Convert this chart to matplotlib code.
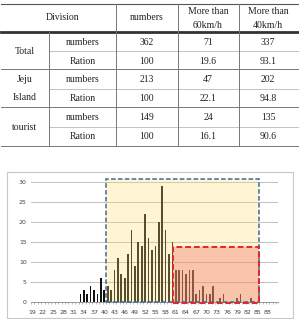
import numpy as np
import matplotlib
matplotlib.use("Agg")
import matplotlib.pyplot as plt
from matplotlib.patches import Rectangle

# ---- table data ----
groups = ["Total", "Jeju\nIsland", "tourist"]
row_kinds = ["numbers", "Ration"]
col_heads = ["numbers", "More than\n60km/h", "More than\n40km/h"]
table_vals = [
    ["362", "71", "337"],
    ["100", "19.6", "93.1"],
    ["213", "47", "202"],
    ["100", "22.1", "94.8"],
    ["149", "24", "135"],
    ["100", "16.1", "90.6"],
]

# ---- bar chart data (speed km/h -> count) ----
speeds = np.arange(19, 91)
counts = np.zeros(len(speeds), dtype=int)
observed = {
    33: 2, 34: 3, 35: 2, 36: 4, 37: 3, 38: 2, 39: 6, 40: 3,
    41: 4, 42: 3, 43: 8, 44: 11, 45: 7, 46: 6, 47: 12, 48: 18, 49: 9, 50: 15,
    51: 14, 52: 22, 53: 16, 54: 13, 55: 14, 56: 20, 57: 29, 58: 18, 59: 12, 60: 15,
    61: 8, 62: 8, 63: 8, 64: 7, 65: 8, 66: 8, 67: 2, 68: 3, 69: 4, 70: 2,
    71: 2, 72: 4, 74: 1, 75: 2, 79: 1, 80: 2, 83: 1,
}
for s, c in observed.items():
    counts[s - 19] = c
xtick_vals = np.arange(19, 89, 3)
ytick_vals = np.arange(0, 31, 5)

W, H = 299, 319
fig = plt.figure(figsize=(W / 100, H / 100), dpi=100)
plt.rcParams['font.family'] = ['Liberation Serif', 'DejaVu Serif']

# overlay axes in pixel coordinates for the table and frame
ov = fig.add_axes([0, 0, 1, 1])
ov.set_xlim(0, W)
ov.set_ylim(H, 0)
ov.axis("off")

tc = "#222222"
fs = 7
# horizontal rules
ov.plot([1, 298], [4, 4], color="#555555", lw=0.8)
ov.plot([1, 298], [31.7, 31.7], color="#333333", lw=2.0)
for y in [69.3, 107.3, 145.7]:
    ov.plot([1, 298], [y, y], color="#777777", lw=0.7)
for y in [50.8, 88.6, 126.8]:
    ov.plot([49.3, 298], [y, y], color="#aaaaaa", lw=0.5)
# vertical rules
for x in [116, 177.7, 239.3]:
    ov.plot([x, x], [4, 145.7], color="#777777", lw=0.7)
ov.plot([49.3, 49.3], [31.7, 145.7], color="#777777", lw=0.7)

# header
ov.text(63, 18, "Division", ha="center", va="center", fontsize=fs, color=tc)
col_x = [147, 208, 268]
for x, h in zip(col_x, col_heads):
    lines = h.split("\n")
    if len(lines) == 1:
        ov.text(x, 18, lines[0], ha="center", va="center", fontsize=fs, color=tc)
    else:
        ov.text(x, 11.5, lines[0], ha="center", va="center", fontsize=fs, color=tc)
        ov.text(x, 25, lines[1], ha="center", va="center", fontsize=fs, color=tc)

row_y = [42.3, 61, 80, 98.7, 117.7, 136.3]
group_y = [51.7, 88.5, 127.3]
for g, gy in zip(groups, group_y):
    lines = g.split("\n")
    if len(lines) == 1:
        ov.text(25, gy, g, ha="center", va="center", fontsize=fs, color=tc)
    else:
        ov.text(25, gy - 8.5, lines[0], ha="center", va="center", fontsize=fs, color=tc)
        ov.text(25, gy + 8.5, lines[1], ha="center", va="center", fontsize=fs, color=tc)
for i, ry in enumerate(row_y):
    ov.text(83, ry, row_kinds[i % 2], ha="center", va="center", fontsize=fs, color=tc)
    for x, v in zip(col_x, table_vals[i]):
        ov.text(x, ry, v, ha="center", va="center", fontsize=fs, color=tc)

# chart frame
ov.add_patch(Rectangle((7, 172), 286, 146, fill=False, ec="#c8c8c8", lw=0.8))

# ---- bar chart ----
left_px, right_px = 31, 278
bot_px, top_px = 301.7, 181.7
ax = fig.add_axes([left_px / W, 1 - bot_px / H, (right_px - left_px) / W,
                   (bot_px - top_px) / H])
ax.bar(speeds, counts, width=0.5, color="#111111", zorder=2)
ax.set_xlim(18.5, 91.0)
ax.set_ylim(0, 30)
ax.set_yticks(ytick_vals)
ax.set_xticks(xtick_vals)
ax.set_xticks(np.arange(18.5, 91, 1), minor=True)
ax.grid(axis="y", color="#c0c0c0", lw=0.7, zorder=0)
ax.tick_params(axis="both", which="major", labelsize=4.5, length=0,
               colors="#444444", pad=3)
ax.tick_params(axis="x", which="minor", length=1.5, width=0.4, color="#888888")
ax.tick_params(axis="x", which="major", pad=6)
for lab in ax.get_xticklabels() + ax.get_yticklabels():
    lab.set_family("DejaVu Sans")
for sp in ["top", "right", "left"]:
    ax.spines[sp].set_visible(False)
ax.spines["bottom"].set_color("#999999")
ax.spines["bottom"].set_linewidth(0.7)
ax.set_facecolor("none")

# highlighted ranges
ax.add_patch(Rectangle((40.5, 0), 45, 30.6, facecolor="#ffdb6f", alpha=0.3,
                       edgecolor="none", zorder=3, clip_on=False))
ax.add_patch(Rectangle((40.5, 0), 45, 30.6, fill=False, edgecolor="#3d6a99",
                       ls=(0, (3, 1.5)), lw=1.1, zorder=5, clip_on=False))
ax.add_patch(Rectangle((60.3, 0), 25.2, 13.75, facecolor="#ed6b64", alpha=0.35,
                       edgecolor="none", zorder=4, clip_on=False))
ax.add_patch(Rectangle((60.3, -0.2), 25.2, 13.95, fill=False, edgecolor="#e02828",
                       ls=(0, (3, 1.5)), lw=1.4, zorder=6, clip_on=False))

fig.savefig("out.png", dpi=100)
